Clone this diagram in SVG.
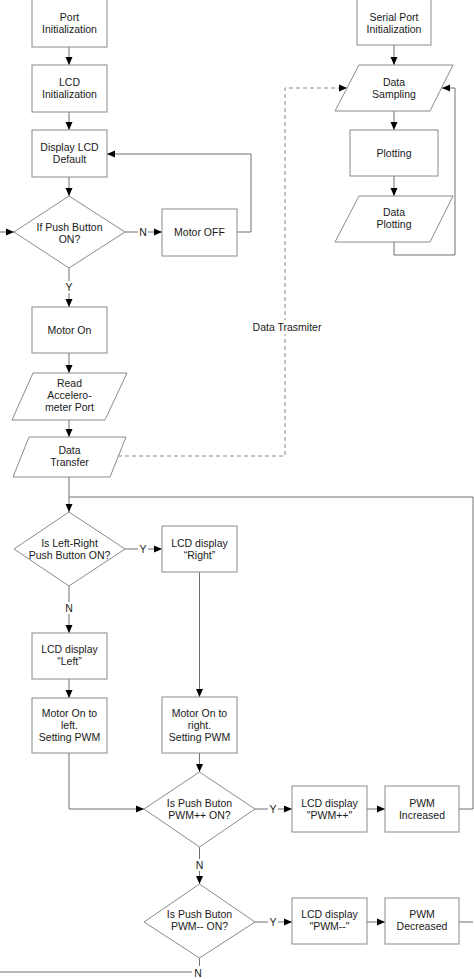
<svg xmlns="http://www.w3.org/2000/svg" width="474" height="979" viewBox="0 0 474 979">
<style>
.box{fill:#fff;stroke:#8a8a8a;stroke-width:1}
.ln{fill:none;stroke:#707070;stroke-width:1}
.dash{stroke:#8a8a8a;stroke-dasharray:4,3}
text{font-family:"Liberation Sans",Arial,sans-serif;font-size:10.5px;fill:#1a1a1a;text-anchor:middle}
</style>
<defs>
<marker id="ah" markerUnits="userSpaceOnUse" markerWidth="8" markerHeight="8" refX="8" refY="4" orient="auto">
<path d="M0,0.5 L8,4 L0,7.5 z" fill="#000"/>
</marker>
</defs>
<rect width="474" height="979" fill="#fff"/>
<g id="connectors">
<path class="ln" d="M69,47 V65" marker-end="url(#ah)"/>
<path class="ln" d="M69,112 V130" marker-end="url(#ah)"/>
<path class="ln" d="M69,177 V196" marker-end="url(#ah)"/>
<path class="ln" d="M0,232 H14" marker-end="url(#ah)"/>
<path class="ln" d="M125,232 H138"/>
<text x="143" y="235.7">N</text>
<path class="ln" d="M148,232 H162" marker-end="url(#ah)"/>
<path class="ln" d="M237,232 H251 V154 H107" marker-end="url(#ah)"/>
<path class="ln" d="M69,268 V281"/>
<text x="69" y="290.7">Y</text>
<path class="ln" d="M69,293 V307" marker-end="url(#ah)"/>
<path class="ln" d="M69,353 V373" marker-end="url(#ah)"/>
<path class="ln" d="M69,420 V437" marker-end="url(#ah)"/>
<path class="ln" d="M69,477 V512" marker-end="url(#ah)"/>
<path class="ln" d="M459,809 H473 V497 H69"/>
<path class="ln" d="M459,922 H473"/>
<path class="ln" d="M125,549 H138"/>
<text x="143" y="552.7">Y</text>
<path class="ln" d="M148,549 H162" marker-end="url(#ah)"/>
<path class="ln" d="M69,586 V602"/>
<text x="69" y="611.7">N</text>
<path class="ln" d="M69,614 V633" marker-end="url(#ah)"/>
<path class="ln" d="M69,679 V698" marker-end="url(#ah)"/>
<path class="ln" d="M199.5,572 V697" marker-end="url(#ah)"/>
<path class="ln" d="M69,753 V809 H144" marker-end="url(#ah)"/>
<path class="ln" d="M199.5,753 V772" marker-end="url(#ah)"/>
<path class="ln" d="M255,809 H268"/>
<text x="273" y="812.7">Y</text>
<path class="ln" d="M278,809 H292" marker-end="url(#ah)"/>
<path class="ln" d="M367,809 H385" marker-end="url(#ah)"/>
<path class="ln" d="M199.5,847 V859"/>
<text x="199.5" y="868.7">N</text>
<path class="ln" d="M199.5,871 V884" marker-end="url(#ah)"/>
<path class="ln" d="M255,922 H268"/>
<text x="273" y="925.7">Y</text>
<path class="ln" d="M278,922 H292" marker-end="url(#ah)"/>
<path class="ln" d="M367,922 H385" marker-end="url(#ah)"/>
<path class="ln" d="M199.5,958 V966"/>
<text x="198" y="976.5">N</text>
<path class="ln" d="M0,972 H192"/>
<path class="ln" d="M394,45 V65" marker-end="url(#ah)"/>
<path class="ln" d="M394,111 V130" marker-end="url(#ah)"/>
<path class="ln" d="M394,176 V196" marker-end="url(#ah)"/>
<path class="ln" d="M394,242 V255 H455 V88 H442" marker-end="url(#ah)"/>
<path class="ln dash" d="M118,456 H285 V88 H347" marker-end="url(#ah)"/>
<rect x="251" y="320" width="72" height="14" fill="#fff"/>
<text x="287" y="330.7">Data Trasmiter</text>
</g>
<g id="port_init">
<rect class="box" x="32" y="-1" width="75" height="48"/>
<text x="69.5" y="20.7">Port</text>
<text x="69.5" y="32.7">Initialization</text>
</g>
<g id="lcd_init">
<rect class="box" x="32" y="65" width="75" height="47"/>
<text x="69.5" y="85.7">LCD</text>
<text x="69.5" y="97.7">Initialization</text>
</g>
<g id="display_lcd_default">
<rect class="box" x="32" y="130" width="75" height="47"/>
<text x="69.5" y="150.5">Display LCD</text>
<text x="69.5" y="162.5">Default</text>
</g>
<g id="if_push_button">
<polygon class="box" points="69,196 125,232 69,268 14,232"/>
<text x="69.5" y="230.5">If Push Button</text>
<text x="69.5" y="242.5">ON?</text>
</g>
<g id="motor_off">
<rect class="box" x="162" y="209" width="75" height="47"/>
<text x="199.5" y="236">Motor OFF</text>
</g>
<g id="motor_on">
<rect class="box" x="32" y="307" width="75" height="46"/>
<text x="69.5" y="333.7">Motor On</text>
</g>
<g id="read_accelerometer">
<polygon class="box" points="33,373 127,373 105,420 12,420"/>
<text x="69.5" y="386.7">Read</text>
<text x="69.5" y="398.7">Accelero-</text>
<text x="69.5" y="410.7">meter Port</text>
</g>
<g id="data_transfer">
<polygon class="box" points="29,437 126,437 110,477 13,477"/>
<text x="69.5" y="453.7">Data</text>
<text x="69.5" y="465.7">Transfer</text>
</g>
<g id="serial_port_init">
<rect class="box" x="357" y="-1" width="74" height="46"/>
<text x="394" y="20.7">Serial Port</text>
<text x="394" y="32.7">Initialization</text>
</g>
<g id="data_sampling">
<polygon class="box" points="359,65 453,65 430,111 335,111"/>
<text x="394" y="85.7">Data</text>
<text x="394" y="97.7">Sampling</text>
</g>
<g id="plotting">
<rect class="box" x="350" y="130" width="88" height="46"/>
<text x="394" y="156.7">Plotting</text>
</g>
<g id="data_plotting">
<polygon class="box" points="359,196 453,196 430,242 335,242"/>
<text x="394" y="215.7">Data</text>
<text x="394" y="227.7">Plotting</text>
</g>
<g id="is_left_right">
<polygon class="box" points="69,512 125,549 69,586 14,549"/>
<text x="69.5" y="546.7">Is Left-Right</text>
<text x="69.5" y="558.7">Push Button ON?</text>
</g>
<g id="lcd_right">
<rect class="box" x="162" y="526" width="75" height="46"/>
<text x="199.5" y="546.7">LCD display</text>
<text x="199.5" y="558.7">“Right”</text>
</g>
<g id="lcd_left">
<rect class="box" x="32" y="633" width="75" height="46"/>
<text x="69.5" y="652.7">LCD display</text>
<text x="69.5" y="664.7">“Left”</text>
</g>
<g id="motor_left">
<rect class="box" x="32" y="698" width="75" height="55"/>
<text x="69.5" y="717.2">Motor On to</text>
<text x="69.5" y="729.2">left.</text>
<text x="69.5" y="741.2">Setting PWM</text>
</g>
<g id="motor_right">
<rect class="box" x="162" y="697" width="75" height="56"/>
<text x="199.5" y="716.7">Motor On to</text>
<text x="199.5" y="728.7">right.</text>
<text x="199.5" y="740.7">Setting PWM</text>
</g>
<g id="pwm_plus_q">
<polygon class="box" points="199.5,772 255,809 199.5,847 144,809"/>
<text x="199.5" y="806.7">Is Push Buton</text>
<text x="199.5" y="818.7">PWM++ ON?</text>
</g>
<g id="lcd_pwm_plus">
<rect class="box" x="292" y="786" width="75" height="46"/>
<text x="329.5" y="806.7">LCD display</text>
<text x="329.5" y="818.7">"PWM++"</text>
</g>
<g id="pwm_increased">
<rect class="box" x="385" y="786" width="74" height="46"/>
<text x="422" y="806.7">PWM</text>
<text x="422" y="818.7">Increased</text>
</g>
<g id="pwm_minus_q">
<polygon class="box" points="199.5,884 255,922 199.5,958 144,922"/>
<text x="199.5" y="917.7">Is Push Buton</text>
<text x="199.5" y="929.7">PWM-- ON?</text>
</g>
<g id="lcd_pwm_minus">
<rect class="box" x="292" y="898" width="75" height="46"/>
<text x="329.5" y="917.7">LCD display</text>
<text x="329.5" y="929.7">"PWM--"</text>
</g>
<g id="pwm_decreased">
<rect class="box" x="385" y="898" width="74" height="46"/>
<text x="422" y="917.7">PWM</text>
<text x="422" y="929.7">Decreased</text>
</g>
</svg>
